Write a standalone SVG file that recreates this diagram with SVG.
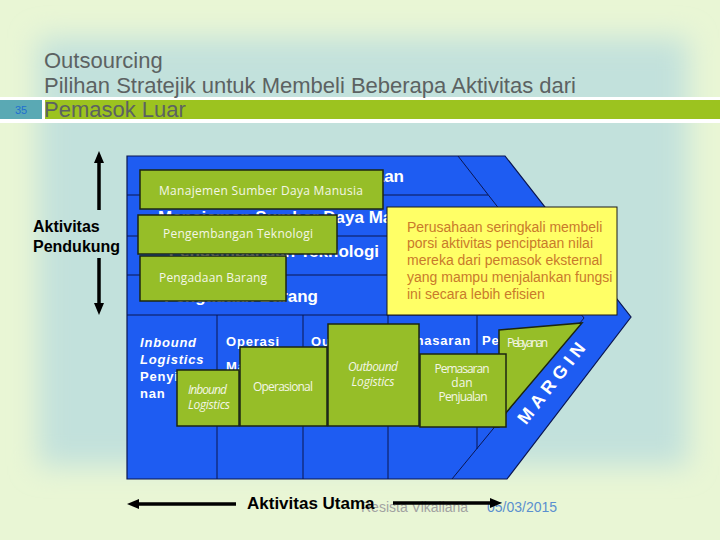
<svg xmlns="http://www.w3.org/2000/svg" width="720" height="540" viewBox="0 0 720 540">
<defs>
  <filter id="soft" x="-20%" y="-20%" width="140%" height="140%"><feGaussianBlur stdDeviation="14"/></filter>
  <marker id="ah" markerUnits="userSpaceOnUse" markerWidth="12" markerHeight="10" refX="4" refY="5" orient="auto">
    <path d="M0,0 L12,5 L0,10 Z" fill="#000"/>
  </marker>
  <style>
    .g { fill:#96be28; stroke:#1c2610; stroke-width:1.5; }
    .gt { font-family:"Open Sans","Noto Sans",sans-serif; font-size:12px; fill:#f4f6e6; }
    .gi { font-style:italic; }
    .ht { font-family:"Liberation Sans",Arial,sans-serif; font-weight:bold; font-size:17px; fill:#ffffff; }
    .pt { font-family:"Liberation Sans",Arial,sans-serif; font-weight:bold; font-size:13px; fill:#ffffff; letter-spacing:0.8px; }
    .ln { stroke:#0b1650; stroke-width:1; fill:none; }
    .title { font-family:"Liberation Sans",Arial,sans-serif; font-size:22px; fill:#5c6262; }
    .arr { stroke:#000; stroke-width:3.5; fill:none; marker-end:url(#ah); }
  </style>
</defs>

<!-- background -->
<rect x="0" y="0" width="720" height="540" fill="#e9f6d5"/>
<rect x="38" y="38" width="650" height="428" fill="#c2e1dc" filter="url(#soft)"/>

<!-- title bar -->
<rect x="0" y="97" width="720" height="26" fill="#ffffff"/>
<rect x="0" y="100" width="42" height="19" fill="#5aa9b4"/>
<rect x="45" y="100" width="675" height="19" fill="#9cc31f"/>
<text x="21" y="114" text-anchor="middle" font-family="Liberation Sans, Arial, sans-serif" font-size="11" fill="#1f6fd0">35</text>
<text class="title" x="44" y="68">Outsourcing</text>
<text class="title" x="44" y="93">Pilihan Stratejik untuk Membeli Beberapa Aktivitas dari</text>
<text class="title" x="44" y="117">Pemasok Luar</text>

<!-- footer -->
<text x="361" y="512" font-family="Liberation Sans, Arial, sans-serif" font-size="14" fill="#a2a2a2">Resista Vikaliana</text>
<text x="487" y="512" font-family="Liberation Sans, Arial, sans-serif" font-size="14" fill="#5a8fcf">05/03/2015</text>

<!-- value chain body -->
<g id="value-chain">
  <path d="M127,156 L505,156 L631,317 L507,479 L127,479 Z" fill="#1e5cf2" stroke="#0b1650" stroke-width="1.2"/>
  <path class="ln" d="M458,156 L584,318 L452,479"/>
  <path class="ln" d="M127,195 H488 M127,236 H520 M127,275 H551 M127,315 H582"/>
  <path class="ln" d="M217,315 V479 M303,315 V479 M388,315 V479 M477,315 V449"/>
  <text class="ht" x="404" y="182" text-anchor="end">Infrastruktur Perusahaan</text>
  <text class="ht" x="158" y="223">Manajemen Sumber Daya Manusia</text>
  <text class="ht" x="379" y="257" text-anchor="end">Pengembangan Teknologi</text>
  <text class="ht" x="318" y="302" text-anchor="end">Pengadaan Barang</text>
  <text class="pt" x="140" y="347" font-style="italic">Inbound</text>
  <text class="pt" x="140" y="364" font-style="italic">Logistics</text>
  <text class="pt" x="140" y="381">Penyimpa</text>
  <text class="pt" x="140" y="398">nan</text>
  <text class="pt" x="226" y="346">Operasi</text>
  <text class="pt" x="226" y="371">Manufaktur</text>
  <text class="pt" x="311" y="346">Outbound</text>
  <text class="pt" x="471" y="345" text-anchor="end">Pemasaran</text>
  <text class="pt" x="482" y="345">Pelayanan</text>
  <text transform="translate(551,383) rotate(-52)" x="2.5" y="6.5" text-anchor="middle" font-family="Liberation Sans, Arial, sans-serif" font-weight="bold" font-size="18" fill="#ffffff" letter-spacing="5">MARGIN</text>
</g>

<!-- support activity boxes -->
<g id="sdm">
  <rect class="g" x="140" y="170" width="243" height="39"/>
  <text class="gt" x="159" y="195" textLength="204">Manajemen Sumber Daya Manusia</text>
</g>
<g id="teknologi">
  <rect class="g" x="138" y="215" width="199" height="39"/>
  <text class="gt" x="163" y="238" textLength="150">Pengembangan Teknologi</text>
</g>
<g id="pengadaan">
  <rect class="g" x="140" y="256" width="146" height="45"/>
  <text class="gt" x="159" y="282" textLength="108">Pengadaan Barang</text>
</g>

<!-- primary activity boxes -->
<g id="pelayanan">
  <path class="g" d="M499,330 L582,323 L494,427 L499,427 Z"/>
  <text class="gt" x="507" y="347" font-size="10" textLength="41">Pelayanan</text>
</g>
<g id="inbound">
  <rect class="g" x="177" y="370" width="62" height="56"/>
  <text class="gt gi" x="188" y="394" textLength="39">Inbound</text>
  <text class="gt gi" x="188" y="409" textLength="42">Logistics</text>
</g>
<g id="operasional">
  <rect class="g" x="240" y="347" width="87" height="79"/>
  <text class="gt" x="253" y="391" textLength="60">Operasional</text>
</g>
<g id="outbound">
  <rect class="g" x="328" y="324" width="91" height="102"/>
  <text class="gt gi" x="373" y="371" text-anchor="middle" textLength="50">Outbound</text>
  <text class="gt gi" x="373" y="386" text-anchor="middle" textLength="43">Logistics</text>
</g>
<g id="pemasaran">
  <rect class="g" x="420" y="354" width="86" height="73"/>
  <text class="gt" x="462" y="373" text-anchor="middle" textLength="55">Pemasaran</text>
  <text class="gt" x="462" y="387" text-anchor="middle">dan</text>
  <text class="gt" x="463" y="401" text-anchor="middle" textLength="49">Penjualan</text>
</g>

<!-- callout -->
<g id="callout">
  <rect x="387" y="207" width="230" height="108" fill="#ffff66" stroke="#1a1a1a" stroke-width="1"/>
  <g font-family="Liberation Sans, Arial, sans-serif" font-size="14" fill="#c97a2b">
    <text x="407" y="232">Perusahaan seringkali membeli</text>
    <text x="407" y="248">porsi aktivitas penciptaan nilai</text>
    <text x="407" y="265">mereka dari pemasok eksternal</text>
    <text x="407" y="282">yang mampu menjalankan fungsi</text>
    <text x="407" y="299">ini secara  lebih efisien</text>
  </g>
</g>

<!-- axis labels -->
<g id="label-pendukung">
  <text font-family="Liberation Sans, Arial, sans-serif" font-weight="bold" font-size="16" fill="#000">
    <tspan x="33" y="232">Aktivitas</tspan>
    <tspan x="33" y="252">Pendukung</tspan>
  </text>
</g>
<g id="label-utama">
  <text x="247" y="509" font-family="Liberation Sans, Arial, sans-serif" font-weight="bold" font-size="17" fill="#000">Aktivitas Utama</text>
</g>

<!-- connectors -->
<g id="connectors">
  <line class="arr" x1="99" y1="210" x2="99" y2="159"/>
  <line class="arr" x1="99" y1="258" x2="99" y2="307"/>
  <line class="arr" x1="236" y1="504" x2="135" y2="504"/>
  <line class="arr" x1="393" y1="503" x2="494" y2="503"/>
</g>
</svg>
